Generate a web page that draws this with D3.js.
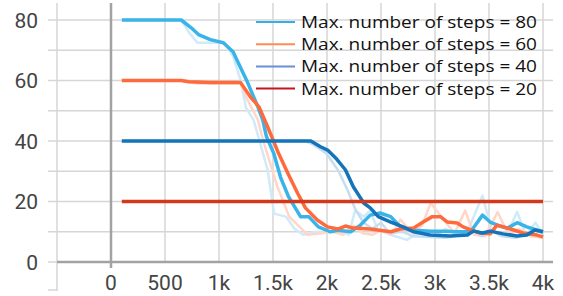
<!DOCTYPE html>
<html>
<head>
<meta charset="utf-8">
<script src="https://cdn.jsdelivr.net/npm/d3@7"></script>
<style>
  html, body { margin: 0; padding: 0; background: #fff; }
  svg { display: block; }
</style>
</head>
<body>
<div id="chart"></div>
<script>
// ── Data (step, value) ───────────────────────────────────────────
const xTicks = [-500, 0, 500, 1000, 1500, 2000, 2500, 3000, 3500, 4000];
const xTickLabels = ['', '0', '500', '1k', '1.5k', '2k', '2.5k', '3k', '3.5k', '4k'];
const yTicks = [0, 20, 40, 60, 80];
const yGrid = [0, 10, 20, 30, 40, 50, 60, 70, 80];

const legendLabels = [
  'Max. number of steps = 80',
  'Max. number of steps = 60',
  'Max. number of steps = 40',
  'Max. number of steps = 20'
];

// smoothed curves
const smooth80 = [[100,80],[650,80],[740,77.5],[810,75.2],[920,73.5],[1040,72.5],[1130,69.5],[1200,64.2],[1265,59.3],[1360,51.3],[1405,47],[1440,41.4],[1506,36],[1570,28],[1645,21.5],[1755,15],[1830,15],[1920,11.6],[2030,10],[2100,10.5],[2220,10],[2310,12.2],[2400,15.5],[2490,16.2],[2590,15],[2680,11.6],[2770,10.6],[2960,10.2],[3080,10.2],[3200,10],[3330,10],[3440,15.5],[3510,13.2],[3600,11.9],[3670,11.2],[3760,13],[3850,11.6],[3940,10.6],[4000,10]];
const smooth60 = [[100,60],[650,60],[720,59.6],[920,59.3],[1200,59.3],[1290,54.6],[1370,51.3],[1450,44.7],[1500,40.4],[1550,36],[1645,28.8],[1727,22.8],[1800,17.9],[1910,13.9],[2005,11.6],[2100,10.9],[2170,11.9],[2245,11.2],[2400,10.9],[2590,10],[2680,10.9],[2800,11.2],[2890,13.2],[2975,15],[3050,15],[3115,13.2],[3205,12.9],[3260,11.6],[3330,10.6],[3420,9.6],[3510,9.3],[3575,12.2],[3700,10.9],[3815,9.6],[3945,8.9],[4000,8.3]];
const smooth40 = [[100,40],[1850,40],[1940,38.1],[2005,37],[2080,34.4],[2170,30.5],[2245,24.8],[2310,21.2],[2340,19.5],[2400,17.9],[2475,15],[2590,13.2],[2705,11.6],[2800,10],[2955,8.9],[3140,8.6],[3300,8.9],[3355,10.2],[3440,9.6],[3510,10.2],[3630,9.3],[3760,8.6],[3850,8.9],[3925,10.6],[4000,10]];
const smooth20 = [[100,20],[4000,20]];

// raw (faded) curves
const raw80 = [[100,80],[650,80],[720,76],[800,72.5],[1050,72.5],[1130,68],[1200,60],[1250,51],[1320,47],[1450,30.5],[1510,16],[1620,15],[1700,11],[1780,9],[1900,10],[2000,9.5],[2100,11],[2200,9],[2260,17],[2340,15],[2400,17],[2470,10.6],[2590,9],[2740,7.3],[2860,10],[2950,8.5],[3020,9],[3100,11],[3200,9],[3300,10],[3440,22],[3520,11],[3600,9],[3680,10],[3760,16.6],[3840,9],[3930,13],[4000,9]];
const raw60 = [[100,60],[650,60],[800,59],[1200,59],[1250,54.6],[1360,47],[1410,40],[1540,25],[1650,15],[1820,9],[1950,9.5],[2050,10],[2150,9],[2250,12],[2330,9.5],[2420,9],[2500,10.5],[2600,9],[2680,14],[2790,9.6],[2880,12],[2960,19.5],[3080,14],[3180,9.5],[3280,17],[3360,9],[3460,8.5],[3580,16.5],[3680,9],[3780,11],[3880,8.5],[4000,8]];
const raw40 = [[100,40],[1800,40],[1880,38.7],[1990,36],[2100,30.5],[2190,23.8],[2265,17.2],[2340,13],[2420,11],[2500,13],[2580,9.5],[2700,10],[2800,8.5],[2950,8.3],[3100,8],[3250,9],[3350,11],[3430,8.5],[3520,10.5],[3620,8.5],[3750,8],[3850,9.5],[3930,10.5],[4000,9.5]];

const series = [
  { raw: raw80, smooth: smooth80, rawColor: '#cfeaf8', color: '#3ab4e8' },
  { raw: raw60, smooth: smooth60, rawColor: '#ffd6c8', color: '#ff6a3d' },
  { raw: raw40, smooth: smooth40, rawColor: '#c6ddef', color: '#1474b9' },
  { raw: null,  smooth: smooth20, rawColor: null,      color: '#d2391a' }
];
const legendColors = ['#33b0e5', '#ff8c55', '#6b8fd6', '#c4161c'];

// ── Layout ───────────────────────────────────────────────────────
const W = 563, H = 296;
const svg = d3.select('#chart').append('svg')
  .attr('width', W).attr('height', H);

const x = d3.scaleLinear().domain([-500, 4000]).range([57, 543]);
const y = d3.scaleLinear().domain([0, 80]).range([262, 20]);

const gridColor = '#d6d6d6';
const axisColor = '#a2a2a2';
const labelColor = '#444';

// horizontal grid
svg.append('g').selectAll('line').data(yGrid.filter(d => d !== 0)).join('line')
  .attr('x1', 48).attr('x2', 553)
  .attr('y1', d => y(d)).attr('y2', d => y(d))
  .attr('stroke', gridColor).attr('stroke-width', 1.5);

// vertical grid
svg.append('g').selectAll('line').data(xTicks.filter(d => d !== 0)).join('line')
  .attr('x1', d => x(d)).attr('x2', d => x(d))
  .attr('y1', 3).attr('y2', d => d === -500 ? 291 : 263)
  .attr('stroke', gridColor).attr('stroke-width', 1.5);

// small tick at bottom-left
svg.append('line')
  .attr('x1', 48).attr('x2', 57).attr('y1', 290).attr('y2', 290)
  .attr('stroke', gridColor).attr('stroke-width', 1.5);
svg.append('line')
  .attr('x1', 48).attr('x2', 57).attr('y1', y(0)).attr('y2', y(0))
  .attr('stroke', gridColor).attr('stroke-width', 1.5);

// axis lines (x = 0 and y = 0)
svg.append('line')
  .attr('x1', x(0)).attr('x2', x(0)).attr('y1', 3).attr('y2', 268)
  .attr('stroke', axisColor).attr('stroke-width', 2.5);
svg.append('line')
  .attr('x1', 57).attr('x2', 553).attr('y1', y(0)).attr('y2', y(0))
  .attr('stroke', axisColor).attr('stroke-width', 2.5);

// tick labels
svg.append('g').selectAll('text').data(yTicks).join('text')
  .attr('x', 38).attr('y', d => y(d)).attr('dy', '0.36em')
  .attr('text-anchor', 'end')
  .attr('font-family', 'Roboto, sans-serif').attr('font-size', 21)
  .attr('fill', labelColor)
  .text(d => d);

svg.append('g').selectAll('text').data(xTicks).join('text')
  .attr('x', d => x(d)).attr('y', 290)
  .attr('text-anchor', 'middle')
  .attr('font-family', 'Roboto, sans-serif').attr('font-size', 21)
  .attr('fill', labelColor)
  .text((d, i) => xTickLabels[i]);

// ── Curves ───────────────────────────────────────────────────────
const line = d3.line().x(d => x(d[0])).y(d => y(d[1]));

series.forEach(s => {
  if (s.raw) {
    svg.append('path').datum(s.raw)
      .attr('d', line).attr('fill', 'none')
      .attr('stroke', s.rawColor).attr('stroke-width', 2.5)
      .attr('stroke-linejoin', 'round');
  }
});
series.forEach(s => {
  svg.append('path').datum(s.smooth)
    .attr('d', line).attr('fill', 'none')
    .attr('stroke', s.color).attr('stroke-width', 3.5)
    .attr('stroke-linejoin', 'round');
});

// ── Legend ───────────────────────────────────────────────────────
const legend = svg.append('g');
legendLabels.forEach((label, i) => {
  const ly = 22 + i * 22.2;
  legend.append('line')
    .attr('x1', 256).attr('x2', 295).attr('y1', ly).attr('y2', ly)
    .attr('stroke', legendColors[i]).attr('stroke-width', 2);
  legend.append('text')
    .attr('x', 301).attr('y', ly + 6)
    .attr('font-family', '"Open Sans", sans-serif').attr('font-size', 17)
    .attr('fill', '#111')
    .attr('textLength', 236).attr('lengthAdjust', 'spacingAndGlyphs')
    .text(label);
});
</script>
</body>
</html>
